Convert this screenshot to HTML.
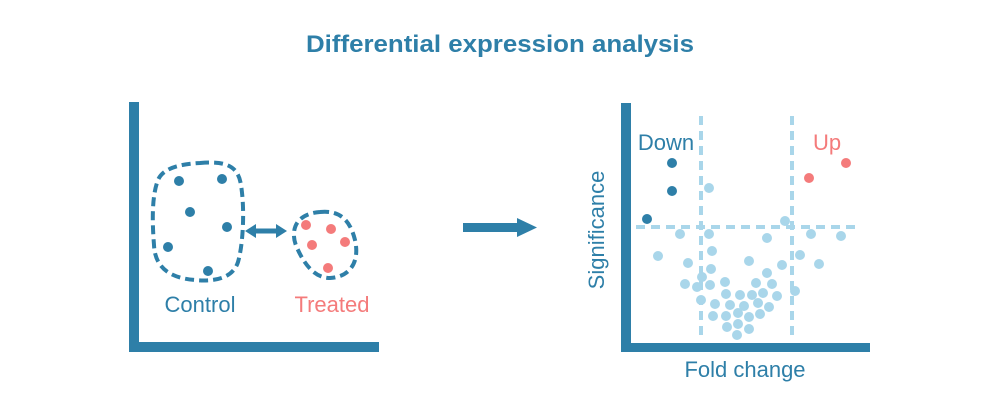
<!DOCTYPE html>
<html><head><meta charset="utf-8"><style>
html,body{margin:0;padding:0;background:#fff;width:1000px;height:400px;overflow:hidden}
</style></head><body>
<svg width="1000" height="400" viewBox="0 0 1000 400" xmlns="http://www.w3.org/2000/svg" font-family="Liberation Sans, sans-serif">
<text x="500" y="52" text-anchor="middle" font-size="24" font-weight="bold" fill="#2e7fa8" textLength="388" lengthAdjust="spacingAndGlyphs">Differential expression analysis</text>
<!-- left axes -->
<rect x="129" y="102" width="10" height="250" fill="#2e7fa8"/>
<rect x="129" y="342" width="250" height="10" fill="#2e7fa8"/>
<path d="M200,163 C225,161 238,165 241,185 C245,210 243,245 238,262 C233,278 215,282 195,280 C170,278 155,268 154,245 C152,220 152,195 158,180 C163,168 180,164 200,163 Z" fill="none" stroke="#2e7fa8" stroke-width="4" stroke-dasharray="9,5"/>
<path d="M320,212 C340,210 350,220 355,240 C360,262 350,277 330,278 C315,278 305,265 298,250 C290,235 292,214 320,212 Z" fill="none" stroke="#2e7fa8" stroke-width="4" stroke-dasharray="9,5"/>
<g fill="#2e7fa8">
<circle cx="179" cy="181" r="5"/><circle cx="222" cy="179" r="5"/><circle cx="190" cy="212" r="5"/><circle cx="227" cy="227" r="5"/><circle cx="168" cy="247" r="5"/><circle cx="208" cy="271" r="5"/>
</g>
<g fill="#f47b7b">
<circle cx="306" cy="225" r="5"/><circle cx="331" cy="229" r="5"/><circle cx="312" cy="245" r="5"/><circle cx="345" cy="242" r="5"/><circle cx="328" cy="268" r="5"/>
</g>
<line x1="253" y1="231" x2="279" y2="231" stroke="#2e7fa8" stroke-width="5"/>
<polygon points="245,231 256,224 256,238" fill="#2e7fa8"/>
<polygon points="287,231 276,224 276,238" fill="#2e7fa8"/>
<text x="200" y="312" text-anchor="middle" font-size="22" fill="#2e7fa8">Control</text>
<text x="332" y="312" text-anchor="middle" font-size="22" fill="#f47b7b">Treated</text>
<!-- big arrow -->
<rect x="463" y="223" width="57" height="9" fill="#2e7fa8"/>
<polygon points="517,218 537,227.5 517,237" fill="#2e7fa8"/>
<!-- right axes -->
<rect x="621" y="103" width="10" height="249" fill="#2e7fa8"/>
<rect x="621" y="343" width="249" height="9" fill="#2e7fa8"/>
<g stroke="#a9d6ea" stroke-width="4" stroke-dasharray="9,6" fill="none">
<line x1="701" y1="116" x2="701" y2="340"/>
<line x1="792" y1="116" x2="792" y2="340"/>
<line x1="636" y1="227" x2="858" y2="227"/>
</g>
<g fill="#a9d6ea">
<circle cx="709" cy="188" r="5"/><circle cx="680" cy="234" r="5"/><circle cx="709" cy="234" r="5"/><circle cx="767" cy="238" r="5"/><circle cx="785" cy="221" r="5"/><circle cx="811" cy="234" r="5"/><circle cx="841" cy="236" r="5"/><circle cx="658" cy="256" r="5"/><circle cx="712" cy="251" r="5"/><circle cx="800" cy="255" r="5"/><circle cx="688" cy="263" r="5"/><circle cx="749" cy="261" r="5"/><circle cx="782" cy="265" r="5"/><circle cx="819" cy="264" r="5"/><circle cx="711" cy="269" r="5"/><circle cx="767" cy="273" r="5"/><circle cx="702" cy="277" r="5"/><circle cx="685" cy="284" r="5"/><circle cx="697" cy="287" r="5"/><circle cx="710" cy="285" r="5"/><circle cx="725" cy="282" r="5"/><circle cx="756" cy="283" r="5"/><circle cx="772" cy="284" r="5"/><circle cx="795" cy="291" r="5"/><circle cx="726" cy="294" r="5"/><circle cx="740" cy="295" r="5"/><circle cx="752" cy="295" r="5"/><circle cx="763" cy="293" r="5"/><circle cx="777" cy="296" r="5"/><circle cx="701" cy="300" r="5"/><circle cx="715" cy="304" r="5"/><circle cx="730" cy="305" r="5"/><circle cx="744" cy="306" r="5"/><circle cx="758" cy="303" r="5"/><circle cx="769" cy="307" r="5"/><circle cx="713" cy="316" r="5"/><circle cx="726" cy="316" r="5"/><circle cx="738" cy="313" r="5"/><circle cx="749" cy="317" r="5"/><circle cx="760" cy="314" r="5"/><circle cx="727" cy="327" r="5"/><circle cx="738" cy="324" r="5"/><circle cx="749" cy="329" r="5"/><circle cx="737" cy="335" r="5"/>
</g>
<g fill="#2e7fa8"><circle cx="672" cy="163" r="5"/><circle cx="672" cy="191" r="5"/><circle cx="647" cy="219" r="5"/></g>
<g fill="#f47b7b"><circle cx="846" cy="163" r="5"/><circle cx="809" cy="178" r="5"/></g>
<text x="666" y="150" text-anchor="middle" font-size="22" fill="#2e7fa8">Down</text>
<text x="827" y="150" text-anchor="middle" font-size="22" fill="#f47b7b">Up</text>
<text transform="translate(604,230) rotate(-90)" text-anchor="middle" font-size="22" fill="#2e7fa8">Significance</text>
<text x="745" y="377" text-anchor="middle" font-size="22" fill="#2e7fa8">Fold change</text>
</svg>
</body></html>
